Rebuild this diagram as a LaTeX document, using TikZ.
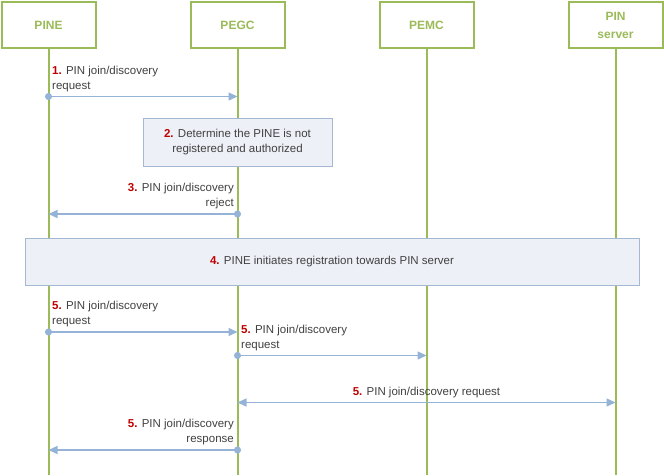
\documentclass[tikz,border=0pt]{standalone}
\usepackage{fontspec}
\setmainfont{Liberation Sans}
\usetikzlibrary{arrows.meta}
\definecolor{lifegreen}{HTML}{9BBB59}
\definecolor{msgblue}{HTML}{95B3D7}
\definecolor{numred}{HTML}{C00000}
\definecolor{txtgrey}{HTML}{404040}
\definecolor{boxfill}{HTML}{EDF1F7}
\definecolor{boxline}{HTML}{A5B8D3}
\newcommand{\stepnum}[1]{\textcolor{numred}{\textbf{#1.}}}
\begin{document}
\begin{tikzpicture}[x=1pt, y=-1pt,
		every node/.style={font=\fontsize{11.5}{15}\selectfont, text=txtgrey, inner sep=0pt},
		entity/.style={draw=lifegreen, line width=2pt, fill=white, minimum width=94pt, minimum height=46pt, text=lifegreen, align=center, font=\fontsize{12}{18}\selectfont\bfseries},
		lifeline/.style={lifegreen, line width=2pt},
		msg/.style={msgblue, line width=1.4pt, {Circle[length=7pt]}-{Triangle[length=9pt,width=8pt]}, shorten <=-3.5pt},
		both/.style={msgblue, line width=1.4pt, {Triangle[length=9pt,width=8pt]}-{Triangle[length=9pt,width=8pt]}},
		action/.style={draw=boxline, fill=boxfill, line width=1pt, align=center}]
	\useasboundingbox (0,0) rectangle (664,475);
	\node[entity] (pine) at (48.5,25) {PINE};
	\node[entity] (pegc) at (237.5,25) {PEGC};
	\node[entity] (pemc) at (426.5,25) {PEMC};
	\node[entity] (server) at (615.5,25) {PIN\\server};
	\draw[lifeline] (pine) -- (pine |- 0,475);
	\draw[lifeline] (pegc) -- (pegc |- 0,475);
	\draw[lifeline] (pemc) -- (pemc |- 0,475);
	\draw[lifeline] (server) -- (server |- 0,475);
	\node[action, minimum width=189pt, minimum height=48pt] (determine) at (237.5,142) {\stepnum{2} Determine the PINE is not\\registered and authorized};
	\node[action, minimum width=614pt, minimum height=47pt] (register) at (332,261.5) {\stepnum{4} PINE initiates registration towards PIN server};
	\coordinate (m1a) at (pine |- 0,96.5);
	\coordinate (m1b) at (pegc |- 0,96.5);
	\coordinate (m3a) at (pegc |- 0,214);
	\coordinate (m3b) at (pine |- 0,214);
	\coordinate (m5a) at (pine |- 0,332);
	\coordinate (m5b) at (pegc |- 0,332);
	\coordinate (m6a) at (pegc |- 0,355.5);
	\coordinate (m6b) at (pemc |- 0,355.5);
	\coordinate (m7a) at (pegc |- 0,402.5);
	\coordinate (m7b) at (server |- 0,402.5);
	\coordinate (m8a) at (pegc |- 0,450);
	\coordinate (m8b) at (pine |- 0,450);
	\draw[msg] (m1a) -- (m1b);
	\draw[msg] (m3a) -- (m3b);
	\draw[msg] (m5a) -- (m5b);
	\draw[msg] (m6a) -- (m6b);
	\draw[both] (m7a) -- (m7b);
	\draw[msg] (m8a) -- (m8b);
	\node[anchor=south west, align=left] (l1) at (52,92) {\stepnum{1} PIN join/discovery\\request};
	\node[anchor=south east, align=right] (l3) at (234,209.5) {\stepnum{3} PIN join/discovery\\reject};
	\node[anchor=south west, align=left] (l5) at (52,327.5) {\stepnum{5} PIN join/discovery\\request};
	\node[anchor=south west, align=left] (l6) at (241,351) {\stepnum{5} PIN join/discovery\\request};
	\node[anchor=south] (l7) at (426.5,398.5) {\stepnum{5} PIN join/discovery request};
	\node[anchor=south east, align=right] (l8) at (234,445.5) {\stepnum{5} PIN join/discovery\\response};
\end{tikzpicture}
\end{document}
